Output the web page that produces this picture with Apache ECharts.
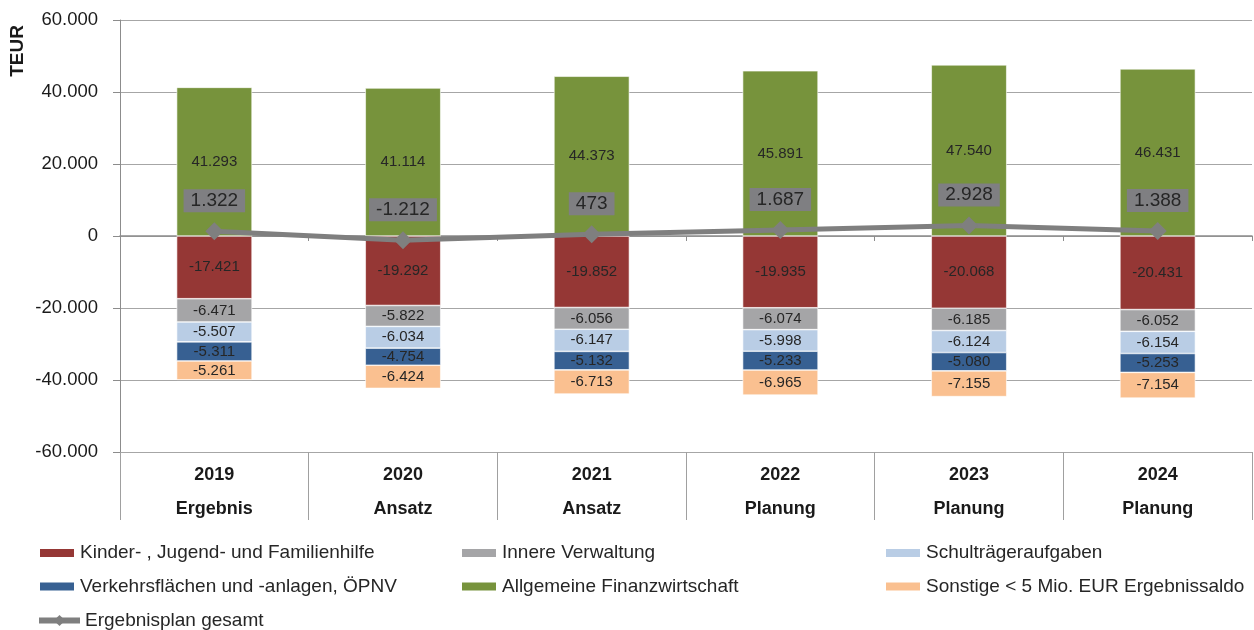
<!DOCTYPE html>
<html>
<head>
<meta charset="utf-8">
<script src="https://cdn.jsdelivr.net/npm/echarts@6/dist/echarts.min.js"></script>
<style>
  html, body { margin: 0; padding: 0; background: #fff; }
  #main { width: 1254px; height: 630px; }
</style>
</head>
<body>
<div id="main"></div>
<script>
// Daten aus dem Ergebnisplan (TEUR)
var categories = ['2019\nErgebnis', '2020\nAnsatz', '2021\nAnsatz', '2022\nPlanung', '2023\nPlanung', '2024\nPlanung'];
var kinderJugend = [-17421, -19292, -19852, -19935, -20068, -20431];
var innereVerwaltung = [-6471, -5822, -6056, -6074, -6185, -6052];
var schultraeger = [-5507, -6034, -6147, -5998, -6124, -6154];
var verkehrsflaechen = [-5311, -4754, -5132, -5233, -5080, -5253];
var finanzwirtschaft = [41293, 41114, 44373, 45891, 47540, 46431];
var sonstige = [-5261, -6424, -6713, -6965, -7155, -7154];
var gesamt = [1322, -1212, 473, 1687, 2928, 1388];
var yTicks = [-60000, -40000, -20000, 0, 20000, 40000, 60000];

var FONT = 'Arial, "Liberation Sans", sans-serif';

// deutsche Tausenderpunkte
function fmt(v) {
    var s = Math.abs(v).toString().replace(/\B(?=(\d{3})+(?!\d))/g, '.');
    return (v < 0 ? '-' : '') + s;
}

function barSeries(name, data, color) {
    return {
        name: name,
        type: 'bar',
        stack: 'gesamt',
        barWidth: '40%',
        data: data,
        itemStyle: { color: color, borderColor: '#ffffff', borderWidth: 0.6 },
        label: {
            show: true,
            position: 'inside',
            color: '#262626',
            fontSize: 15,
            fontFamily: FONT,
            formatter: function (p) { return fmt(p.value); }
        }
    };
}

var legendText = { fontSize: 19, fontFamily: FONT, color: '#262626' };

function colLegend(left, top, names) {
    return {
        orient: 'vertical', left: left, top: top, itemGap: 14.5,
        itemWidth: 36, itemHeight: 10, icon: 'rect',
        textStyle: legendText,
        data: names
    };
}

var myChart = echarts.init(document.getElementById('main'));

var option = {
    animation: false,
    backgroundColor: '#ffffff',
    grid: { left: 120, right: 2, top: 20, bottom: 178, containLabel: false },
    graphic: [{
        type: 'text',
        x: 18,
        y: 51,
        rotation: Math.PI / 2,
        style: {
            text: 'TEUR',
            font: 'bold 19px ' + FONT,
            fill: '#1a1a1a',
            textAlign: 'center',
            textVerticalAlign: 'middle'
        }
    }],
    legend: [
        colLegend(33, 538.5, ['Kinder- , Jugend- und Familienhilfe', 'Verkehrsflächen und -anlagen, ÖPNV']),
        colLegend(455, 538.5, ['Innere Verwaltung', 'Allgemeine Finanzwirtschaft']),
        colLegend(879, 538.5, ['Schulträgeraufgaben', 'Sonstige < 5 Mio. EUR Ergebnissaldo']),
        {
            orient: 'horizontal', left: 31, top: 606,
            itemWidth: 41, itemHeight: 14,
            lineStyle: { width: 6, color: '#7f7f7f' },
            itemStyle: { color: '#7f7f7f' },
            textStyle: legendText,
            data: ['Ergebnisplan gesamt']
        }
    ],
    xAxis: [
        {
            // Achse auf Nulllinie mit kleinen Strichen
            type: 'category',
            data: categories,
            boundaryGap: true,
            axisLine: { onZero: true, lineStyle: { color: '#8c8c8c', width: 1.5 } },
            axisTick: { show: true, interval: 0, length: 5, lineStyle: { color: '#8c8c8c' } },
            axisLabel: { show: false },
            splitLine: { show: false }
        },
        {
            // Kategoriebeschriftung unten mit Trennlinien
            type: 'category',
            data: categories,
            position: 'bottom',
            boundaryGap: true,
            axisLine: { show: false, onZero: false },
            axisTick: { show: true, interval: 0, length: 68, lineStyle: { color: '#a0a0a0' } },
            axisLabel: {
                interval: 0,
                margin: 6,
                fontSize: 18,
                fontWeight: 'bold',
                fontFamily: FONT,
                color: '#1a1a1a',
                lineHeight: 34
            },
            splitLine: { show: false }
        }
    ],
    yAxis: {
        type: 'value',
        min: -60000,
        max: 60000,
        interval: 20000,
        axisLine: { show: true, lineStyle: { color: '#8c8c8c' } },
        axisTick: { show: true, length: 7, lineStyle: { color: '#8c8c8c' } },
        axisLabel: {
            margin: 22,
            fontSize: 18.5,
            fontFamily: FONT,
            color: '#1a1a1a',
            customValues: yTicks,
            formatter: function (v) { return fmt(v); }
        },
        splitLine: { show: true, lineStyle: { color: '#a6a6a6', width: 1 } }
    },
    series: [
        barSeries('Kinder- , Jugend- und Familienhilfe', kinderJugend, '#953735'),
        barSeries('Innere Verwaltung', innereVerwaltung, '#a5a5a7'),
        barSeries('Schulträgeraufgaben', schultraeger, '#b9cde5'),
        barSeries('Verkehrsflächen und -anlagen, ÖPNV', verkehrsflaechen, '#376092'),
        barSeries('Allgemeine Finanzwirtschaft', finanzwirtschaft, '#77933c'),
        barSeries('Sonstige < 5 Mio. EUR Ergebnissaldo', sonstige, '#fac090'),
        {
            name: 'Ergebnisplan gesamt',
            type: 'line',
            data: gesamt,
            z: 10,
            symbol: 'diamond',
            symbolSize: 18,
            lineStyle: { color: '#7f7f7f', width: 5 },
            itemStyle: { color: '#7f7f7f' },
            label: {
                show: true,
                position: 'top',
                distance: 10,
                backgroundColor: '#7f7f82',
                padding: [2, 7, 2, 7],
                color: '#262626',
                fontSize: 19,
                fontFamily: FONT,
                formatter: function (p) { return fmt(p.value); }
            }
        }
    ]
};

myChart.setOption(option);
</script>
</body>
</html>
